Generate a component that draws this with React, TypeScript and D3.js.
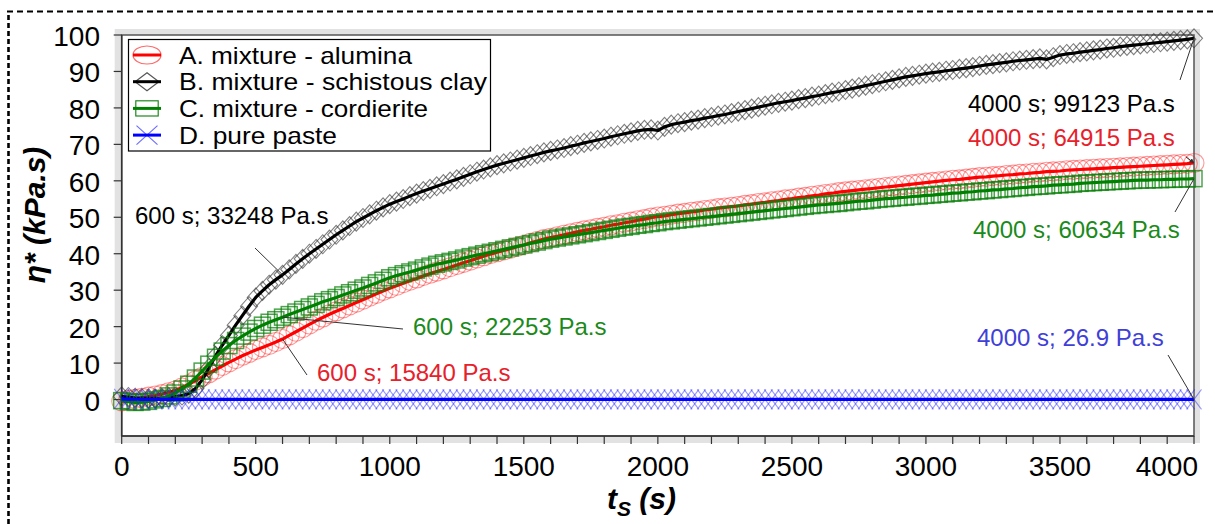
import * as d3 from "d3";

// complex viscosity (kPa.s) read every 25 s, t = 0 … 4000 s
const T_STEP = 25;

const alumina = [
  -0.5, -0.1, 0.2, 0.5, 0.8, 1.1, 1.5, 2.0, 2.5, 3.3, 4.2, 5.2, 6.2, 7.2, 8.2, 9.2, 10.2, 11.1, 12.0, 12.8,
  13.6, 14.3, 15.0, 15.8, 16.6, 17.6, 18.6, 19.6, 20.6, 21.6, 22.5, 23.4, 24.2, 25.0, 25.8, 26.6, 27.4, 28.2, 29.0, 29.8,
  30.5, 31.2, 31.9, 32.6, 33.2, 33.9, 34.5, 35.1, 35.7, 36.3, 36.9, 37.5, 38.1, 38.7, 39.3, 39.9, 40.4, 40.9, 41.4, 41.9,
  42.4, 43.0, 43.5, 44.0, 44.4, 44.8, 45.2, 45.6, 46.0, 46.4, 46.7, 47.1, 47.4, 47.8, 48.1, 48.5, 48.8, 49.2, 49.5, 49.9,
  50.2, 50.4, 50.7, 51.0, 51.2, 51.5, 51.7, 52.0, 52.2, 52.5, 52.7, 52.9, 53.1, 53.4, 53.6, 53.9, 54.1, 54.4, 54.6, 54.9,
  55.1, 55.4, 55.6, 55.9, 56.1, 56.4, 56.6, 56.9, 57.1, 57.3, 57.5, 57.7, 57.9, 58.1, 58.3, 58.5, 58.7, 58.9, 59.1, 59.3,
  59.5, 59.7, 59.9, 60.1, 60.3, 60.4, 60.6, 60.8, 61.0, 61.1, 61.3, 61.4, 61.6, 61.7, 61.9, 62.0, 62.2, 62.3, 62.5, 62.6,
  62.7, 62.9, 63.0, 63.1, 63.2, 63.3, 63.4, 63.5, 63.6, 63.7, 63.8, 63.9, 64.0, 64.1, 64.2, 64.3, 64.4, 64.5, 64.6, 64.7,
  64.9,
];

const schistousClay = [
  0.9, 0.7, 0.5, 0.4, 0.3, 0.3, 0.4, 0.6, 0.8, 1.1, 1.6, 3.0, 5.4, 8.6, 12.0, 14.9, 17.6, 20.4, 23.0, 25.6,
  28.0, 29.8, 31.5, 32.9, 34.2, 35.7, 37.2, 38.6, 40.0, 41.3, 42.6, 43.9, 45.2, 46.4, 47.6, 48.8, 49.8, 50.8, 51.8, 52.7,
  53.6, 54.3, 55.0, 55.8, 56.5, 57.2, 57.8, 58.5, 59.1, 59.8, 60.4, 61.1, 61.8, 62.5, 63.1, 63.7, 64.3, 64.8, 65.3, 65.8,
  66.3, 66.8, 67.3, 67.8, 68.2, 68.6, 69.0, 69.5, 69.9, 70.4, 70.8, 71.2, 71.6, 72.1, 72.5, 72.9, 73.3, 73.7, 74.0, 74.1,
  73.8, 74.8, 75.4, 75.8, 76.1, 76.5, 76.8, 77.2, 77.5, 77.9, 78.2, 78.6, 79.0, 79.4, 79.8, 80.2, 80.6, 81.0, 81.4, 81.7,
  82.0, 82.4, 82.7, 83.1, 83.4, 83.8, 84.2, 84.5, 84.9, 85.3, 85.7, 86.1, 86.5, 86.9, 87.3, 87.7, 88.1, 88.5, 88.8, 89.1,
  89.4, 89.7, 89.9, 90.2, 90.4, 90.7, 90.9, 91.2, 91.5, 91.8, 92.0, 92.3, 92.5, 92.8, 93.0, 93.2, 93.4, 93.6, 93.3, 93.9,
  94.5, 94.8, 95.0, 95.3, 95.5, 95.8, 96.0, 96.3, 96.5, 96.8, 97.0, 97.2, 97.4, 97.6, 97.8, 98.0, 98.2, 98.4, 98.6, 98.8,
  99.1,
];

const cordierite = [
  -0.3, -0.6, -0.8, -0.7, -0.5, -0.1, 0.3, 1.0, 1.8, 2.9, 4.2, 5.9, 7.8, 9.7, 11.6, 13.3, 14.8, 16.2, 17.4, 18.5,
  19.5, 20.4, 21.2, 21.9, 22.6, 23.3, 24.0, 24.7, 25.4, 26.1, 26.8, 27.4, 28.0, 28.7, 29.3, 30.0, 30.6, 31.3, 32.0, 32.7,
  33.4, 34.0, 34.5, 35.0, 35.5, 36.1, 36.6, 37.1, 37.5, 37.9, 38.3, 38.8, 39.2, 39.6, 40.0, 40.4, 40.8, 41.2, 41.6, 42.0,
  42.4, 42.8, 43.2, 43.6, 44.0, 44.3, 44.6, 44.9, 45.2, 45.5, 45.8, 46.1, 46.4, 46.7, 47.0, 47.3, 47.5, 47.8, 48.0, 48.3,
  48.5, 48.8, 49.0, 49.2, 49.4, 49.6, 49.8, 50.0, 50.2, 50.4, 50.6, 50.8, 51.0, 51.2, 51.4, 51.6, 51.8, 52.0, 52.2, 52.4,
  52.6, 52.8, 53.0, 53.2, 53.4, 53.5, 53.7, 53.8, 54.0, 54.2, 54.4, 54.5, 54.7, 54.9, 55.1, 55.2, 55.4, 55.5, 55.7, 55.8,
  56.0, 56.1, 56.3, 56.4, 56.6, 56.7, 56.9, 57.0, 57.2, 57.3, 57.5, 57.6, 57.8, 57.9, 58.1, 58.2, 58.4, 58.5, 58.6, 58.8,
  58.9, 59.0, 59.1, 59.3, 59.4, 59.5, 59.6, 59.7, 59.8, 59.9, 60.0, 60.1, 60.2, 60.2, 60.3, 60.3, 60.4, 60.4, 60.5, 60.5,
  60.6,
];

const purePaste = [
  0.2, 0.12, 0.08, 0.05, 0.04, 0.03, 0.03, 0.03, 0.03, 0.03, 0.03, 0.03, 0.03, 0.03, 0.03, 0.03, 0.03, 0.03, 0.03, 0.03,
  0.03, 0.03, 0.03, 0.03, 0.03, 0.03, 0.03, 0.03, 0.03, 0.03, 0.03, 0.03, 0.03, 0.03, 0.03, 0.03, 0.03, 0.03, 0.03, 0.03,
  0.03, 0.03, 0.03, 0.03, 0.03, 0.03, 0.03, 0.03, 0.03, 0.03, 0.03, 0.03, 0.03, 0.03, 0.03, 0.03, 0.03, 0.03, 0.03, 0.03,
  0.03, 0.03, 0.03, 0.03, 0.03, 0.03, 0.03, 0.03, 0.03, 0.03, 0.03, 0.03, 0.03, 0.03, 0.03, 0.03, 0.03, 0.03, 0.03, 0.03,
  0.03, 0.03, 0.03, 0.03, 0.03, 0.03, 0.03, 0.03, 0.03, 0.03, 0.03, 0.03, 0.03, 0.03, 0.03, 0.03, 0.03, 0.03, 0.03, 0.03,
  0.03, 0.03, 0.03, 0.03, 0.03, 0.03, 0.03, 0.03, 0.03, 0.03, 0.03, 0.03, 0.03, 0.03, 0.03, 0.03, 0.03, 0.03, 0.03, 0.03,
  0.03, 0.03, 0.03, 0.03, 0.03, 0.03, 0.03, 0.03, 0.03, 0.03, 0.03, 0.03, 0.03, 0.03, 0.03, 0.03, 0.03, 0.03, 0.03, 0.03,
  0.03, 0.03, 0.03, 0.03, 0.03, 0.03, 0.03, 0.03, 0.03, 0.03, 0.03, 0.03, 0.03, 0.03, 0.03, 0.03, 0.03, 0.03, 0.03, 0.03,
  0.027,
];

const legendLabels = [
  "A. mixture - alumina",
  "B. mixture - schistous clay",
  "C. mixture - cordierite",
  "D. pure paste",
];
// widths the legend labels occupy in the figure (its text is slightly stretched)
const legendWidths = [233, 308, 249, 158];

const xTickValues = [0, 500, 1000, 1500, 2000, 2500, 3000, 3500, 4000];
const yTickValues = [0, 10, 20, 30, 40, 50, 60, 70, 80, 90, 100];

const FONT = "'Liberation Sans', Arial, sans-serif";

const PLOT = { left: 121.7, right: 1194, top: 35, bottom: 436 };

const x = d3.scaleLinear().domain([0, 4000]).range([PLOT.left, PLOT.right]);
const y = d3.scaleLinear().domain([-10, 100]).range([PLOT.bottom, PLOT.top]);

type Shape = "circle" | "diamond" | "square" | "cross";

const series: {
  values: number[];
  line: string;
  mark: string;
  markOpacity: number;
  shape: Shape;
}[] = [
  { values: alumina, line: "#ff0000", mark: "#ff1a1a", markOpacity: 0.45, shape: "circle" },
  { values: schistousClay, line: "#000000", mark: "#2a2a2a", markOpacity: 0.6, shape: "diamond" },
  { values: cordierite, line: "#008000", mark: "#0a800a", markOpacity: 0.72, shape: "square" },
  { values: purePaste, line: "#0000ff", mark: "#2020ff", markOpacity: 0.45, shape: "cross" },
];

function Marker({ shape, cx, cy, color, opacity, sx = 1, sy = 1, sw = 1 }: any) {
  const common = { fill: "none", stroke: color, strokeOpacity: opacity, strokeWidth: sw };
  if (shape === "circle")
    return <ellipse cx={cx} cy={cy} rx={10 * sx} ry={9.5 * sy} {...common} />;
  if (shape === "diamond")
    return (
      <path
        d={`M${cx},${cy - 9.5 * sy}L${cx + 8.5 * sx},${cy}L${cx},${cy + 9.5 * sy}L${cx - 8.5 * sx},${cy}Z`}
        {...common}
      />
    );
  if (shape === "square")
    return <rect x={cx - 8 * sx} y={cy - 8 * sy} width={16 * sx} height={16 * sy} {...common} />;
  return (
    <path
      d={`M${cx - 7.5 * sx},${cy - 10 * sy}L${cx + 7.5 * sx},${cy + 10 * sy}M${cx - 7.5 * sx},${cy + 10 * sy}L${cx + 7.5 * sx},${cy - 10 * sy}`}
      {...common}
    />
  );
}

// label text, colour, text start / baseline, leader start, leader end (data point)
const notes = [
  { text: "600 s; 33248 Pa.s", color: "#000000", tx: 135, ty: 224, lx: 255, ly: 248, t: 600, s: 1 },
  { text: "600 s; 22253 Pa.s", color: "#1a8a1a", tx: 413, ty: 335, lx: 403, ly: 329, t: 600, s: 2 },
  { text: "600 s; 15840 Pa.s", color: "#e8202a", tx: 317, ty: 381, lx: 307, ly: 375, t: 600, s: 0 },
  { text: "4000 s; 99123 Pa.s", color: "#000000", tx: 968, ty: 112, lx: 1180, ly: 80, t: 4000, s: 1 },
  { text: "4000 s; 64915 Pa.s", color: "#e8202a", tx: 968, ty: 146, lx: 1186, ly: 157, t: 4000, s: 0 },
  { text: "4000 s; 60634 Pa.s", color: "#1a8a1a", tx: 973, ty: 238, lx: 1175, ly: 212, t: 4000, s: 2 },
  { text: "4000 s; 26.9 Pa.s", color: "#4040d8", tx: 977, ty: 346, lx: 1168, ly: 355, t: 4000, s: 3 },
];

export default function App() {
  const line = d3
    .line<number>()
    .x((_, i) => x(i * T_STEP))
    .y((d) => y(d));

  const minorTicks = x.ticks(40);

  return (
    <div style={{ position: "absolute", left: 0, top: 0 }}>
      <svg width={1215} height={524} style={{ display: "block", fontFamily: FONT }}>
        <rect width={1215} height={524} fill="#ffffff" />
        {/* dashed outer border */}
        <path d="M8.5,540V11.5" fill="none" stroke="#000" strokeWidth={2.6} strokeDasharray="5,3" />
        <path d="M7,11.5H1230" fill="none" stroke="#000" strokeWidth={2} strokeDasharray="6,4" />

        {/* plot frame with grey rim */}
        <rect
          x={PLOT.left - 7}
          y={PLOT.top - 6}
          width={PLOT.right - PLOT.left + 13}
          height={PLOT.bottom - PLOT.top + 13}
          fill="#e2e2e2"
        />
        <rect
          x={PLOT.left}
          y={PLOT.top}
          width={PLOT.right - PLOT.left}
          height={PLOT.bottom - PLOT.top}
          fill="#fff"
          stroke="#555"
          strokeWidth={1.5}
        />
        <line x1={PLOT.left} x2={PLOT.left} y1={PLOT.top} y2={PLOT.bottom} stroke="#333" strokeWidth={1.5} />
        <line x1={PLOT.left} x2={PLOT.right} y1={PLOT.bottom} y2={PLOT.bottom} stroke="#333" strokeWidth={1.5} />

        {/* y axis */}
        {yTickValues.map((v) => (
          <g key={"y" + v}>
            <line x1={PLOT.left - 8} x2={PLOT.left} y1={y(v)} y2={y(v)} stroke="#333" strokeWidth={1.2} />
            <text x={100} y={y(v) + 11} textAnchor="end" fontSize={28} fill="#000">
              {v}
            </text>
          </g>
        ))}

        {/* x axis */}
        {minorTicks.map((t) => (
          <line key={"m" + t} x1={x(t)} x2={x(t)} y1={PLOT.bottom} y2={PLOT.bottom + 8} stroke="#333" strokeWidth={1.2} />
        ))}
        {xTickValues.map((t, i) => (
          <text
            key={"x" + t}
            x={i === xTickValues.length - 1 ? x(t) + 4 : x(t)}
            y={476}
            textAnchor={i === xTickValues.length - 1 ? "end" : "middle"}
            fontSize={28}
            fill="#000"
          >
            {t}
          </text>
        ))}

        {/* axis titles */}
        <text
          transform="translate(45,215) rotate(-90)"
          textAnchor="middle"
          fontSize={30}
          fontWeight="bold"
          fontStyle="italic"
          fill="#000"
        >
          η* (kPa.s)
        </text>
        <text x={607} y={509} fontSize={30} fontWeight="bold" fontStyle="italic" fill="#000">
          t
          <tspan fontSize={21} dy={7}>S</tspan>
          <tspan dy={-7}> (s)</tspan>
        </text>

        {/* series */}
        {series.map((s, si) => (
          <g key={"s" + si}>
            {s.values.map((v, i) => (
              <Marker
                key={i}
                shape={s.shape}
                cx={x(i * T_STEP)}
                cy={y(v)}
                color={s.mark}
                opacity={s.markOpacity}
                sw={s.shape === "square" ? 1.5 : 1.1}
              />
            ))}
            <path d={line(s.values) ?? ""} fill="none" stroke={s.line} strokeWidth={3.2} strokeLinejoin="round" />
          </g>
        ))}

        {/* annotations */}
        <defs>
          <marker id="arr" viewBox="0 0 10 10" refX={9} refY={5} markerWidth={5} markerHeight={5} orient="auto">
            <path d="M0,0L10,5L0,10Z" fill="#333" />
          </marker>
        </defs>
        {notes.map((n, i) => {
          const vals = series[n.s].values;
          const v = vals[n.t / T_STEP];
          return (
            <g key={"n" + i}>
              <line
                x1={n.lx}
                y1={n.ly}
                x2={x(n.t)}
                y2={y(v)}
                stroke="#333"
                strokeWidth={1}
                markerEnd={n.s === 0 && n.t === 4000 ? "url(#arr)" : undefined}
              />
              <text x={n.tx} y={n.ty} fontSize={24} fill={n.color}>
                {n.text}
              </text>
            </g>
          );
        })}

        {/* legend */}
        <rect x={128.5} y={39.5} width={362} height={111.5} fill="#fff" stroke="#000" strokeWidth={1.2} />
        {legendLabels.map((label, i) => {
          const cy = 55 + i * 26.7;
          const s = series[i];
          return (
            <g key={"l" + i}>
              <Marker shape={s.shape} cx={147} cy={cy} color={s.mark} opacity={Math.min(1, s.markOpacity + 0.2)} sx={1.4} sy={0.95} sw={1.2} />
              <line x1={133} x2={161} y1={cy} y2={cy} stroke={s.line} strokeWidth={3} />
              <text
                x={179}
                y={cy + 8.5}
                fontSize={24}
                fill="#000"
                textLength={legendWidths[i]}
                lengthAdjust="spacingAndGlyphs"
              >
                {label}
              </text>
            </g>
          );
        })}
      </svg>
    </div>
  );
}
